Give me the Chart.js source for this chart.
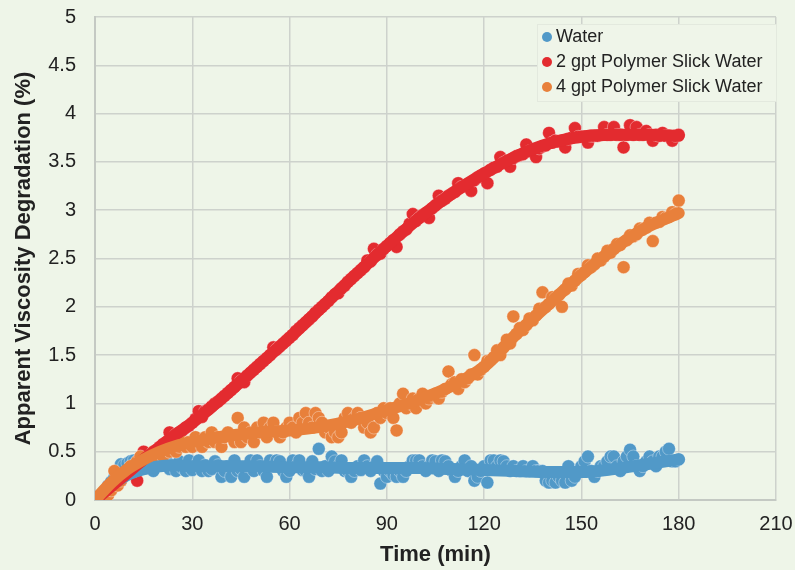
<!DOCTYPE html>
<html>
<head>
<meta charset="utf-8">
<script src="https://cdn.jsdelivr.net/npm/chart.js@4"></script>
<style>
  html, body { margin: 0; padding: 0; background: #eef5e8; }
  #wrap { width: 795px; height: 570px; }
</style>
</head>
<body>
<div id="wrap"><canvas id="chart" width="795" height="570"></canvas></div>
<script>
// minutes 0..180, one reading a minute
const waterVals = [
  0, 0, 0.04, 0.1, 0.15, 0.19, 0.24, 0.3, 0.37, 0.36,
  0.38, 0.4, 0.41, 0.4, 0.37, 0.41, 0.33, 0.36, 0.3, 0.4,
  0.41, 0.36, 0.41, 0.32, 0.36, 0.3, 0.4, 0.33, 0.3, 0.41,
  0.31, 0.36, 0.41, 0.3, 0.36, 0.3, 0.32, 0.4, 0.36, 0.24,
  0.3, 0.35, 0.24, 0.41, 0.3, 0.32, 0.24, 0.35, 0.41, 0.3,
  0.41, 0.35, 0.3, 0.24, 0.41, 0.35, 0.41, 0.4, 0.3, 0.24,
  0.3, 0.41, 0.35, 0.41, 0.31, 0.3, 0.24, 0.4, 0.32, 0.53,
  0.3, 0.35, 0.3, 0.45, 0.4, 0.35, 0.41, 0.3, 0.3, 0.24,
  0.3, 0.35, 0.31, 0.41, 0.35, 0.3, 0.35, 0.4, 0.17, 0.3,
  0.24, 0.3, 0.26, 0.24, 0.3, 0.24, 0.3, 0.35, 0.41, 0.41,
  0.41, 0.35, 0.3, 0.35, 0.41, 0.4, 0.3, 0.41, 0.4, 0.35,
  0.3, 0.24, 0.3, 0.35, 0.41, 0.3, 0.35, 0.2, 0.24, 0.3,
  0.35, 0.18, 0.41, 0.41, 0.35, 0.41, 0.4, 0.35, 0.3, 0.35,
  0.3, 0.3, 0.35, 0.3, 0.3, 0.35, 0.3, 0.3, 0.3, 0.2,
  0.18, 0.2, 0.18, 0.24, 0.2, 0.18, 0.35, 0.2, 0.24, 0.3,
  0.35, 0.4, 0.45, 0.3, 0.24, 0.3, 0.35, 0.35, 0.4, 0.45,
  0.45, 0.35, 0.3, 0.4, 0.45, 0.52, 0.45, 0.35, 0.3, 0.35,
  0.4, 0.45, 0.4, 0.35, 0.45, 0.45, 0.5, 0.53, 0.4, 0.4,
  0.42
];
const gpt2Vals = [
  0, 0, 0.05, 0.08, 0.14, 0.14, 0.17, 0.22, 0.2, 0.25,
  0.28, 0.31, 0.33, 0.2, 0.39, 0.5, 0.44, 0.46, 0.5, 0.52,
  0.55, 0.58, 0.6, 0.7, 0.64, 0.68, 0.7, 0.72, 0.75, 0.77,
  0.8, 0.84, 0.92, 0.86, 0.92, 0.94, 0.97, 1.0, 1.02, 1.05,
  1.08, 1.11, 1.14, 1.17, 1.26, 1.23, 1.22, 1.29, 1.32, 1.35,
  1.38, 1.41, 1.44, 1.47, 1.5, 1.58, 1.56, 1.59, 1.62, 1.65,
  1.68, 1.71, 1.75, 1.78, 1.81, 1.84, 1.87, 1.9, 1.94, 1.97,
  2.0, 2.03, 2.06, 2.1, 2.13, 2.14, 2.19, 2.22, 2.26, 2.29,
  2.32, 2.35, 2.38, 2.41, 2.48, 2.47, 2.6, 2.54, 2.55, 2.6,
  2.63, 2.66, 2.69, 2.62, 2.75, 2.78, 2.8, 2.86, 2.96, 2.89,
  2.92, 2.95, 2.97, 2.92, 3.02, 3.05, 3.15, 3.1, 3.12, 3.15,
  3.17, 3.19, 3.28, 3.24, 3.25, 3.27, 3.2, 3.31, 3.34, 3.36,
  3.38, 3.28, 3.42, 3.44, 3.45, 3.55, 3.49, 3.51, 3.45, 3.54,
  3.56, 3.57, 3.58, 3.68, 3.61, 3.62, 3.55, 3.64, 3.66, 3.67,
  3.8, 3.7, 3.72, 3.71, 3.72, 3.65, 3.74, 3.75, 3.85, 3.76,
  3.76, 3.76, 3.7, 3.77, 3.77, 3.77, 3.78, 3.86, 3.78, 3.78,
  3.86, 3.78, 3.78, 3.65, 3.78, 3.88, 3.78, 3.86, 3.78, 3.78,
  3.82, 3.78, 3.72, 3.78, 3.77, 3.8, 3.77, 3.77, 3.72, 3.77,
  3.78
];
const gpt4Vals = [
  0, 0, 0.02, 0, 0.05, 0.1, 0.3, 0.15, 0.2, 0.25,
  0.3, 0.35, 0.3, 0.4, 0.45, 0.35, 0.4, 0.45, 0.5, 0.45,
  0.5, 0.45, 0.55, 0.5, 0.6, 0.5, 0.55, 0.6, 0.55, 0.6,
  0.55, 0.65, 0.6, 0.55, 0.65, 0.6, 0.7, 0.6, 0.65, 0.55,
  0.65, 0.7, 0.65, 0.6, 0.85, 0.6, 0.75, 0.65, 0.7, 0.6,
  0.75, 0.7, 0.8, 0.65, 0.75, 0.8, 0.7, 0.65, 0.7, 0.75,
  0.8, 0.75, 0.7, 0.85, 0.8, 0.9, 0.8, 0.75, 0.9, 0.85,
  0.8, 0.7, 0.75, 0.65, 0.7, 0.65, 0.7, 0.85, 0.9, 0.8,
  0.85, 0.9, 0.85, 0.75, 0.8, 0.7, 0.75, 0.9, 0.85, 0.95,
  0.9, 0.95, 0.85, 0.72, 1.0, 1.1, 0.95, 1.0, 1.05, 0.95,
  1.05, 1.1, 1.0, 1.05, 1.08, 1.1, 1.05, 1.12, 1.15, 1.33,
  1.2, 1.22, 1.15, 1.25, 1.22, 1.26, 1.3, 1.5, 1.3, 1.35,
  1.38, 1.44, 1.45, 1.48, 1.55, 1.5, 1.58, 1.66, 1.62, 1.9,
  1.72, 1.78, 1.76, 1.81, 1.88, 1.86, 1.91, 1.98, 2.15, 2.0,
  2.03, 2.1, 2.09, 2.12, 2.0, 2.18, 2.24, 2.22, 2.27, 2.34,
  2.33, 2.36, 2.43, 2.41, 2.44, 2.5, 2.48, 2.52, 2.58, 2.56,
  2.6, 2.65, 2.64, 2.41, 2.69, 2.74, 2.73, 2.75, 2.81, 2.8,
  2.82, 2.87, 2.68, 2.87, 2.88, 2.93, 2.92, 2.93, 2.98, 2.96,
  3.1
];

// trend lines
const trendTimes = [0, 5, 10, 15, 20, 25, 30, 40, 50, 60, 70, 80, 90, 100, 110, 120, 130, 140, 150, 160, 170, 180];
const waterTrend = [0, 0.15, 0.26, 0.32, 0.35, 0.36, 0.35, 0.35, 0.35, 0.34, 0.34, 0.33, 0.33, 0.33, 0.32, 0.31, 0.3, 0.29, 0.29, 0.32, 0.37, 0.42];
const gpt2Trend = [0, 0.14, 0.28, 0.42, 0.55, 0.68, 0.8, 1.08, 1.38, 1.68, 2.0, 2.32, 2.63, 2.92, 3.17, 3.38, 3.56, 3.69, 3.76, 3.78, 3.78, 3.77];
const gpt4Trend = [0, 0.18, 0.32, 0.42, 0.5, 0.56, 0.6, 0.66, 0.7, 0.72, 0.76, 0.83, 0.93, 1.04, 1.18, 1.38, 1.72, 2.03, 2.33, 2.6, 2.82, 2.97];

const seriesNames = ['Water', '2 gpt Polymer Slick Water', '4 gpt Polymer Slick Water'];
const seriesColors = ['#5199c8', '#e32b2f', '#e8803b'];

const xTicks = [0, 30, 60, 90, 120, 150, 180, 210];

function toPoints(vals) {
  return vals.map((v, i) => ({ x: i, y: v }));
}
function toTrend(vals) {
  return vals.map((v, i) => ({ x: trendTimes[i], y: v }));
}

const allVals = [waterVals, gpt2Vals, gpt4Vals];
const allTrends = [waterTrend, gpt2Trend, gpt4Trend];

const datasets = [];
allVals.forEach((vals, i) => {
  datasets.push({
    label: seriesNames[i],
    data: toPoints(vals),
    backgroundColor: seriesColors[i],
    borderColor: 'rgba(255,255,255,0.35)',
    borderWidth: 1,
    pointRadius: 6.5,
    showLine: false,
    order: 10 - i
  });
});
allTrends.forEach((vals, i) => {
  datasets.push({
    label: seriesNames[i] + ' trend',
    data: toTrend(vals),
    borderColor: seriesColors[i],
    backgroundColor: seriesColors[i],
    borderWidth: 12,
    pointRadius: 0,
    showLine: true,
    cubicInterpolationMode: 'monotone',
    borderCapStyle: 'round',
    order: 3 - i
  });
});

const bgPlugin = {
  id: 'bg',
  beforeDraw(chart) {
    const c = chart.ctx;
    c.save();
    c.fillStyle = '#eef5e8';
    c.fillRect(0, 0, chart.width, chart.height);
    c.restore();
  }
};

const legendPlugin = {
  id: 'boxLegend',
  afterDraw(chart) {
    const c = chart.ctx;
    const x0 = 537, y0 = 24, w = 239, h = 77;
    c.save();
    c.fillStyle = '#eff5e9';
    c.strokeStyle = '#e3e9de';
    c.lineWidth = 1;
    c.fillRect(x0, y0, w, h);
    c.strokeRect(x0 + 0.5, y0 + 0.5, w, h);
    c.font = '18px "Liberation Sans", Arial, sans-serif';
    c.textBaseline = 'middle';
    for (let i = 0; i < 3; i++) {
      const y = y0 + 13 + i * 25;
      c.beginPath();
      c.arc(x0 + 10, y, 5, 0, Math.PI * 2);
      c.fillStyle = seriesColors[i];
      c.fill();
      c.fillStyle = '#222';
      c.fillText(seriesNames[i], x0 + 19, y);
    }
    c.restore();
  }
};

const ctx = document.getElementById('chart').getContext('2d');
new Chart(ctx, {
  type: 'scatter',
  data: { datasets: datasets },
  options: {
    responsive: false,
    animation: false,
    layout: { padding: { left: 11, right: 19, top: 17, bottom: 2 } },
    plugins: {
      legend: { display: false },
      tooltip: { enabled: false }
    },
    scales: {
      x: {
        type: 'linear',
        min: 0,
        max: 210,
        afterBuildTicks(scale) {
          scale.ticks = xTicks.map(v => ({ value: v }));
        },
        afterFit(scale) { scale.height = 68; },
        grid: { color: '#cdd2cc', lineWidth: 1.5, drawTicks: true, tickLength: 11, tickColor: 'rgba(0,0,0,0)' },
        border: { color: '#c4c9c3', width: 2 },
        ticks: {
          padding: 1,
          color: '#222',
          font: { family: '"Liberation Sans", Arial, sans-serif', size: 20 }
        },
        title: {
          display: true,
          text: 'Time (min)',
          color: '#222',
          padding: { top: 6, bottom: 0 },
          font: { family: '"Liberation Sans", Arial, sans-serif', size: 22, weight: 'bold' }
        }
      },
      y: {
        min: 0,
        max: 5,
        afterFit(scale) { scale.width = 84; },
        grid: { color: '#cdd2cc', lineWidth: 1.5, drawTicks: true, tickLength: 18, tickColor: 'rgba(0,0,0,0)' },
        border: { color: '#c4c9c3', width: 2 },
        ticks: {
          stepSize: 0.5,
          padding: 1,
          color: '#222',
          font: { family: '"Liberation Sans", Arial, sans-serif', size: 20 },
          callback: v => String(v)
        },
        title: {
          display: true,
          text: 'Apparent Viscosity Degradation (%)',
          color: '#222',
          padding: { top: 0, bottom: 0 },
          font: { family: '"Liberation Sans", Arial, sans-serif', size: 22, weight: 'bold' }
        }
      }
    }
  },
  plugins: [bgPlugin, legendPlugin]
});
</script>
</body>
</html>
